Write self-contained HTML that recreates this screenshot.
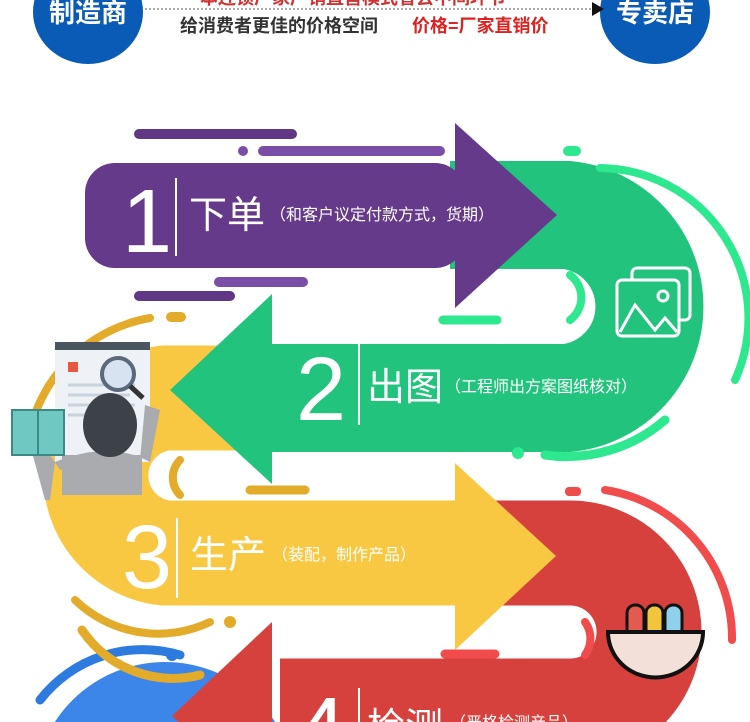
<!DOCTYPE html>
<html><head><meta charset="utf-8"><style>
html,body{margin:0;padding:0;background:#fff;width:750px;height:722px;overflow:hidden;}
svg{display:block}
text{font-family:"Liberation Sans","Noto Sans CJK SC",sans-serif;}
</style></head><body>
<svg width="750" height="722" viewBox="0 0 750 722" xmlns="http://www.w3.org/2000/svg">
<ellipse cx="88" cy="12" rx="55" ry="52" fill="#0a5bb5"/>
<ellipse cx="655" cy="12" rx="55" ry="52" fill="#0a5bb5"/>
<text x="88" y="22" font-size="26" fill="#fff" text-anchor="middle" font-weight="bold">制造商</text>
<text x="655" y="22" font-size="26" fill="#fff" text-anchor="middle" font-weight="bold">专卖店</text>
<line x1="145" y1="9" x2="592" y2="9" stroke="#aaa" stroke-width="2" stroke-dasharray="2,2"/>
<polygon points="592,2 604,9 592,16" fill="#111"/>
<text x="200" y="4" font-size="18" fill="#c33" font-weight="bold">本连锁厂家产销直营模式省去中间环节</text>
<text x="180" y="32" font-size="18" fill="#333" font-weight="bold">给消费者更佳的价格空间</text>
<text x="412" y="32" font-size="18" fill="#d22" font-weight="bold">价格=厂家直销价</text>

<ellipse cx="165" cy="790" rx="130" ry="128" fill="#3b86e8"/>
<path d="M40 700 A130 130 0 0 1 180 655" fill="none" stroke="#2e7be0" stroke-width="9" stroke-linecap="round"/>
<circle cx="172" cy="655" r="6" fill="#2e7be0"/>

<path d="M460 553 H570 A79 79 0 0 1 570 711 H280" fill="none" stroke="#d6413e" stroke-width="105"/>
<polygon points="272,622 172,716 272,810" fill="#d6413e"/>
<path d="M605 490 A150 150 0 0 1 732 640" fill="none" stroke="#f04c4c" stroke-width="8" stroke-linecap="round"/>
<rect x="565" y="487" width="16" height="9" rx="4" fill="#f04c4c"/>
<path d="M585 622 A28 28 0 0 1 585 655" fill="none" stroke="#f04c4c" stroke-width="8" stroke-linecap="round"/>
<line x1="445" y1="654" x2="495" y2="654" stroke="#f04c4c" stroke-width="9" stroke-linecap="round"/>

<path d="M280 398 H165 A78 78 0 0 0 165 553 H460" fill="none" stroke="#f9c843" stroke-width="105"/>
<polygon points="455,463 556,556 455,650" fill="#f9c843"/>
<path d="M82 630 A110 110 0 0 0 200 675" fill="none" stroke="#e3ab2a" stroke-width="9" stroke-linecap="round"/>
<circle cx="230" cy="622" r="6" fill="#e3ab2a"/>
<path d="M75 600 A120 120 0 0 0 210 622" fill="none" stroke="#e3ab2a" stroke-width="8" stroke-linecap="round"/>
<path d="M180 460 A25 25 0 0 0 180 495" fill="none" stroke="#e3ab2a" stroke-width="8" stroke-linecap="round"/>
<line x1="250" y1="490" x2="305" y2="490" stroke="#e3ab2a" stroke-width="9" stroke-linecap="round"/>
<path d="M30 430 A150 150 0 0 1 150 318" fill="none" stroke="#e3ab2a" stroke-width="8" stroke-linecap="round"/>
<rect x="166" y="312" width="20" height="10" rx="5" fill="#e3ab2a"/>

<path d="M450 215 H567 A92 92 0 0 1 567 398 H270" fill="none" stroke="#22c47d" stroke-width="108"/>
<polygon points="272,294 170,390 272,484" fill="#22c47d"/>
<path d="M600 168 A150 150 0 0 1 735 380" fill="none" stroke="#2ee890" stroke-width="8" stroke-linecap="round"/>
<rect x="563" y="146" width="18" height="10" rx="5" fill="#2ee890"/>
<path d="M570 275 A28 28 0 0 1 570 320" fill="none" stroke="#2ee890" stroke-width="8" stroke-linecap="round"/>
<line x1="443" y1="320" x2="497" y2="320" stroke="#2ee890" stroke-width="9" stroke-linecap="round"/>
<path d="M665 420 A150 150 0 0 1 545 455" fill="none" stroke="#2ee890" stroke-width="9" stroke-linecap="round"/>
<circle cx="518" cy="453" r="6" fill="#2ee890"/>
<rect x="632" y="268" width="58" height="52" rx="5" fill="none" stroke="#fff" stroke-width="3"/>
<rect x="617" y="280" width="62" height="56" rx="5" fill="#22c47d" stroke="#fff" stroke-width="3"/>
<polyline points="620,332 635,305 655,330 665,318 677,332" fill="none" stroke="#fff" stroke-width="3"/>
<circle cx="663" cy="296" r="5" fill="none" stroke="#fff" stroke-width="3"/>

<rect x="85" y="163" width="380" height="105" rx="30" fill="#663a8a"/>
<polygon points="455,123 557,215 455,308" fill="#663a8a"/>
<line x1="139" y1="134" x2="292" y2="134" stroke="#5f3785" stroke-width="10" stroke-linecap="round"/>
<line x1="263" y1="151" x2="440" y2="151" stroke="#7a4ea6" stroke-width="10" stroke-linecap="round"/>
<circle cx="243" cy="151" r="5" fill="#7a4ea6"/>
<line x1="219" y1="282" x2="303" y2="282" stroke="#7a4ea6" stroke-width="10" stroke-linecap="round"/>
<line x1="139" y1="296" x2="230" y2="296" stroke="#5f3785" stroke-width="10" stroke-linecap="round"/>

<g fill="#fff">
<text x="122" y="252" font-size="90">1</text>
<rect x="175" y="178" width="2" height="78"/>
<text x="189" y="228" font-size="38">下单</text>
<text x="270" y="220" font-size="16">（和客户议定付款方式，货期）</text>

<text x="296" y="420" font-size="90">2</text>
<rect x="358" y="343" width="2" height="82"/>
<text x="367" y="400" font-size="38">出图</text>
<text x="445" y="392" font-size="16">（工程师出方案图纸核对）</text>

<text x="122" y="588" font-size="90">3</text>
<rect x="176" y="518" width="2" height="80"/>
<text x="190" y="568" font-size="38">生产</text>
<text x="272" y="560" font-size="16">（装配，制作产品）</text>

<text x="296" y="760" font-size="90">4</text>
<rect x="358" y="688" width="2" height="40"/>
<text x="367" y="740" font-size="38">检测</text>
<text x="450" y="728" font-size="16">（严格检测产品）</text>
</g>

<rect x="55" y="342" width="95" height="120" fill="#eef1f5"/>
<rect x="55" y="342" width="95" height="8" fill="#4a5560"/>
<rect x="68" y="362" width="10" height="10" fill="#e8573f"/>
<g stroke="#c9d3de" stroke-width="3"><line x1="68" y1="385" x2="135" y2="385"/><line x1="68" y1="395" x2="130" y2="395"/><line x1="68" y1="405" x2="135" y2="405"/><line x1="68" y1="415" x2="125" y2="415"/></g>
<circle cx="118" cy="374" r="16" fill="#d7e3f0" stroke="#5a6a7a" stroke-width="4"/>
<line x1="130" y1="386" x2="143" y2="398" stroke="#333" stroke-width="5"/>
<path d="M50 500 L55 462 Q110 440 150 462 L160 410 L145 405 L140 460 Q110 450 60 470 L40 440 L30 445 L45 500 Z" fill="#a9abae"/>
<rect x="62" y="455" width="80" height="40" fill="#a9abae"/>
<ellipse cx="110" cy="425" rx="27" ry="32" fill="#3d4248"/>
<rect x="12" y="410" width="52" height="45" fill="#6fc9c2" stroke="#3a8a85" stroke-width="2"/>
<line x1="38" y1="410" x2="38" y2="455" stroke="#3a8a85" stroke-width="2"/>

<rect x="627" y="605" width="17" height="32" rx="8" fill="#e25a50" stroke="#111" stroke-width="3"/>
<rect x="646" y="605" width="17" height="32" rx="8" fill="#f2c53a" stroke="#111" stroke-width="3"/>
<rect x="665" y="605" width="17" height="32" rx="8" fill="#8fd0ea" stroke="#111" stroke-width="3"/>
<path d="M608 632 H703 A47 45 0 0 1 608 632 Z" fill="#f3e0d8" stroke="#111" stroke-width="4"/>
</svg>
</body></html>
